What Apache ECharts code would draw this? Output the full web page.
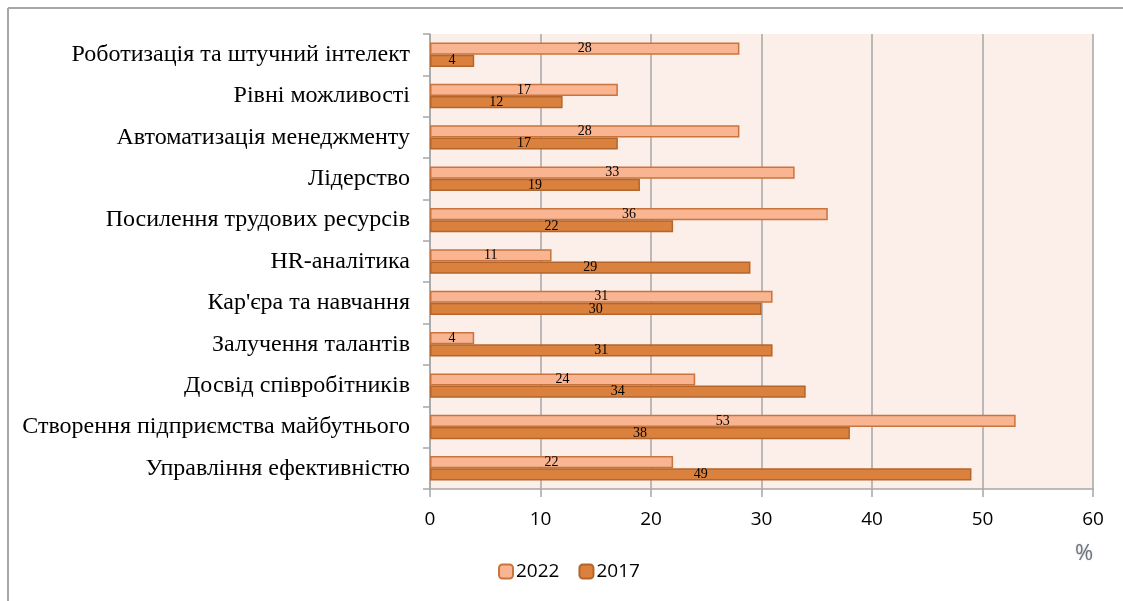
<!DOCTYPE html>
<html><head><meta charset="utf-8">
<script src="https://cdn.jsdelivr.net/npm/echarts@6/dist/echarts.min.js"></script>
<style>html,body{margin:0;padding:0;background:#fff}#c{width:1123px;height:601px}</style>
</head><body><div id="c"></div>
<script>
// categories listed bottom -> top
const categories = [
  "Управління ефективністю",
  "Створення підприємства майбутнього",
  "Досвід співробітників",
  "Залучення талантів",
  "Кар'єра та навчання",
  "HR-аналітика",
  "Посилення трудових ресурсів",
  "Лідерство",
  "Автоматизація менеджменту",
  "Рівні можливості",
  "Роботизація та штучний інтелект"
];
const values2022 = [22, 53, 24, 4, 31, 11, 36, 33, 28, 17, 28];
const values2017 = [49, 38, 34, 31, 30, 29, 22, 19, 17, 12, 4];
const xTicks = {min: 0, max: 60, interval: 10};
const unitLabel = "%";

const chart = echarts.init(document.getElementById('c'));
const labelStyle = {show: true, position: 'inside', color: '#000', fontFamily: 'Liberation Serif', fontSize: 14};
chart.setOption({
  animation: false,
  backgroundColor: '#fff',
  grid: {left: 430, right: 30, top: 34, height: 455, containLabel: false, show: true, backgroundColor: '#FCEEE9', borderWidth: 0},
  legend: {
    data: ['2022', '2017'], left: 493, top: 557, itemWidth: 14, itemHeight: 14, itemGap: 19,
    textStyle: {fontFamily: 'Open Sans', fontSize: 19, color: '#000', padding:[0,0,0,-2]}
  },
  xAxis: {
    type: 'value', min: xTicks.min, max: xTicks.max, interval: xTicks.interval,
    axisLine: {show: true, lineStyle: {color: '#A6A6A6', width: 1.5}},
    axisTick: {show: true, length: 8, lineStyle: {color: '#A6A6A6', width: 1.5}},
    axisLabel: {margin: 21, fontFamily: 'Open Sans', fontSize: 19, color: '#000'},
    splitLine: {show: true, lineStyle: {color: '#A6A6A6', width: 1.5}}
  },
  yAxis: {
    type: 'category', data: categories,
    axisLine: {show: true, lineStyle: {color: '#A6A6A6', width: 1.5}},
    axisTick: {show: true, length: 7, lineStyle: {color: '#A6A6A6', width: 1.5}},
    axisLabel: {margin: 20, fontFamily: 'Liberation Serif', fontSize: 24, color: '#000'}
  },
  series: [
    {name: '2022', type: 'bar', data: values2022, barGap: '0%', barCategoryGap: '41%',
     itemStyle: {color: '#F9B592', borderColor: '#C8743C', borderWidth: 1.5}, label: labelStyle},
    {name: '2017', type: 'bar', data: values2017, barGap: '0%', barCategoryGap: '41%',
     itemStyle: {color: '#DB813E', borderColor: '#B3652C', borderWidth: 1.5}, label: labelStyle}
  ],
  graphic: [
    {type: 'line', shape: {x1: 8, y1: 8, x2: 1123, y2: 8}, style: {stroke: '#A6A6A6', lineWidth: 2}},
    {type: 'line', shape: {x1: 8, y1: 8, x2: 8, y2: 601}, style: {stroke: '#A6A6A6', lineWidth: 2}},
    {type: 'text', left: 1075, top: 543, style: {text: unitLabel, fontFamily: 'Open Sans', fontSize: 22, fill: '#6E7580', textShadowColor: '#ccc', textShadowBlur: 2}}
  ]
});
</script></body></html>
